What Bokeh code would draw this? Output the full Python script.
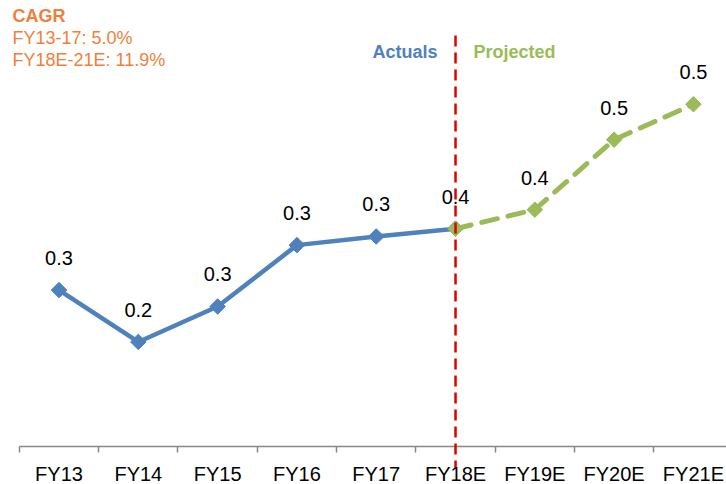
import math
from bokeh.plotting import figure
from bokeh.models import Range1d, FixedTicker, Label
from bokeh.embed import file_html
from bokeh.resources import INLINE
from bokeh.core.properties import value

categories = ["FY13", "FY14", "FY15", "FY16", "FY17", "FY18E", "FY19E", "FY20E", "FY21E"]
actual_vals = [0.284, 0.224, 0.265, 0.336, 0.346, 0.355]
projected_vals = [0.355, 0.377, 0.458, 0.499]
cagr_lines = ["FY13-17: 5.0%", "FY18E-21E: 11.9%"]

FONT = "Liberation Sans"
BLUE = "#4F81BD"
GREEN = "#9BBB59"
ORANGE = "#F07F3C"

PX = 865.0  # pixels per unit on y
Y_AXIS = 0.103
Y_TOP = 0.619
Y_BOTTOM = Y_AXIS - 38 / PX
X_START = -0.238
X_END = 8.917

xs = [i + 0.5 for i in range(len(categories))]
x_act = xs[:6]
x_proj = xs[5:]

p = figure(width=726, height=484, output_backend="svg", toolbar_location=None,
           x_range=Range1d(X_START, X_END), y_range=Range1d(Y_BOTTOM, Y_TOP),
           min_border_left=0, min_border_right=0, min_border_top=0, min_border_bottom=0)
p.outline_line_color = None
p.background_fill_color = "white"
p.border_fill_color = "white"
p.grid.visible = False
p.yaxis.visible = False

ax = p.xaxis[0]
ax.fixed_location = Y_AXIS
ax.ticker = FixedTicker(ticks=xs, minor_ticks=list(range(0, 10)))
ax.major_label_overrides = {x: c for x, c in zip(xs, categories)}
ax.major_tick_out = 0
ax.major_tick_in = 0
ax.minor_tick_out = 6
ax.minor_tick_in = 0
ax.minor_tick_line_color = "#888888"
ax.minor_tick_line_width = 1.5
ax.axis_line_color = None
ax.major_label_text_font = FONT
ax.major_label_text_font_size = "20px"
ax.major_label_text_color = "black"
ax.major_label_standoff = 10

# axis line starting at the first category boundary
p.segment(x0=[0], y0=[Y_AXIS], x1=[X_END], y1=[Y_AXIS], line_color="#888888", line_width=1.5)

p.line(x_act, actual_vals, line_color=BLUE, line_width=4.5)
p.scatter(x_act, actual_vals, marker="square", angle=math.pi / 4, size=11, color=BLUE)
p.line(x_proj, projected_vals, line_color=GREEN, line_width=5, line_dash="16 11", line_cap="round")
p.scatter(x_proj, projected_vals, marker="square", angle=math.pi / 4, size=11, color=GREEN)

all_vals = actual_vals[:5] + projected_vals
labels = ["%.1f" % v for v in all_vals]
p.text(xs, all_vals, text=labels, text_font=value(FONT), text_font_size="20px",
       text_color="black", text_align="center", text_baseline="alphabetic", y_offset=-32)

p.segment(x0=[xs[5]], y0=[Y_TOP - 35 / PX], x1=[xs[5]], y1=[Y_AXIS - 22 / PX],
          line_color="#E00000", line_width=2.5, line_dash="11 6")

p.add_layout(Label(x=X_START, y=Y_TOP, x_offset=12, y_offset=-5, text="CAGR",
                   text_font=FONT, text_font_size="18px", text_font_style="bold",
                   text_color=ORANGE, text_baseline="top"))
for i, t in enumerate(cagr_lines):
    p.add_layout(Label(x=X_START, y=Y_TOP, x_offset=12, y_offset=-27 - 22 * i, text=t,
                       text_font=FONT, text_font_size="18px",
                       text_color=ORANGE, text_baseline="top"))

p.add_layout(Label(x=xs[5], y=0.559, x_offset=-18, text="Actuals", text_font=FONT,
                   text_font_size="18px", text_font_style="bold", text_color=BLUE,
                   text_align="right", text_baseline="middle"))
p.add_layout(Label(x=xs[5], y=0.559, x_offset=18, text="Projected", text_font=FONT,
                   text_font_size="18px", text_font_style="bold", text_color=GREEN,
                   text_align="left", text_baseline="middle"))

open("out.html", "w").write(file_html(p, INLINE))
